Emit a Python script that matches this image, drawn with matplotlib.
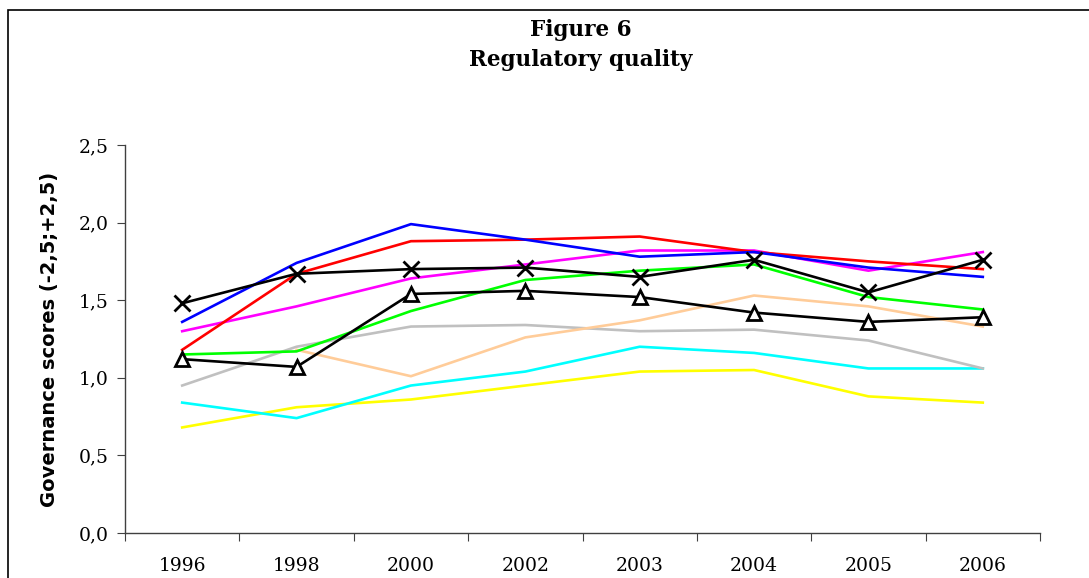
import numpy as np
import matplotlib.pyplot as plt
from matplotlib.patches import Rectangle

years = ["1996", "1998", "2000", "2002", "2003", "2004", "2005", "2006"]

blue = [1.36, 1.74, 1.99, 1.89, 1.78, 1.81, 1.71, 1.65]
red = [1.18, 1.67, 1.88, 1.89, 1.91, 1.81, 1.75, 1.70]
magenta = [1.30, 1.46, 1.64, 1.73, 1.82, 1.82, 1.69, 1.81]
green = [1.15, 1.17, 1.43, 1.63, 1.69, 1.73, 1.52, 1.44]
peach = [np.nan, 1.18, 1.01, 1.26, 1.37, 1.53, 1.46, 1.33]
gray = [0.95, 1.20, 1.33, 1.34, 1.30, 1.31, 1.24, 1.06]
cyan = [0.84, 0.74, 0.95, 1.04, 1.20, 1.16, 1.06, 1.06]
yellow = [0.68, 0.81, 0.86, 0.95, 1.04, 1.05, 0.88, 0.84]
black_x = [1.48, 1.67, 1.70, 1.71, 1.65, 1.76, 1.55, 1.76]
black_tri = [1.12, 1.07, 1.54, 1.56, 1.52, 1.42, 1.36, 1.39]

fig = plt.figure(figsize=(10.89, 5.78), dpi=100)
ax = fig.add_axes([0.1148, 0.0779, 0.8402, 0.6713])

x = np.arange(len(years))
lw = 1.9
ax.plot(x, yellow, color="#ffff00", lw=lw)
ax.plot(x, cyan, color="#00ffff", lw=lw)
ax.plot(x, gray, color="#c0c0c0", lw=lw)
ax.plot(x, peach, color="#ffcc99", lw=lw)
ax.plot(x, green, color="#00ff00", lw=lw)
ax.plot(x, magenta, color="#ff00ff", lw=lw)
ax.plot(x, red, color="#ff0000", lw=lw)
ax.plot(x, blue, color="#0000ff", lw=lw)
ax.plot(x, black_tri, color="black", lw=lw, marker="^", ms=10,
        mfc="white", mec="black", mew=2)
ax.plot(x, black_x, color="black", lw=lw, marker="x", ms=11, mew=2)

ax.set_xlim(-0.5, len(years) - 0.5)
ax.set_ylim(0, 2.5)
ax.set_yticks(np.arange(0, 2.51, 0.5))
ax.set_yticklabels([f"{v:.1f}".replace(".", ",") for v in np.arange(0, 2.51, 0.5)],
                   fontfamily="DejaVu Serif", fontsize=13.5)
ax.set_xticks(np.arange(-0.5, len(years)), labels=[])
ax.set_xticks(x, minor=True)
ax.set_xticklabels(years, minor=True, fontfamily="DejaVu Serif", fontsize=13.5)
ax.tick_params(axis="x", which="minor", length=0, pad=17)
ax.tick_params(axis="both", which="major", length=6, color="#404040", direction="out")
ax.tick_params(axis="y", pad=6)

for s in ["top", "right"]:
    ax.spines[s].set_visible(False)
for s in ["left", "bottom"]:
    ax.spines[s].set_color("#404040")
    ax.spines[s].set_linewidth(1.0)

ax.set_ylabel("Governance scores (-2,5;+2,5)", fontfamily="DejaVu Sans",
              fontweight="bold", fontsize=14, labelpad=14)

fig.text(0.533, 0.948, "Figure 6", ha="center", va="center",
         fontfamily="DejaVu Serif", fontweight="bold", fontsize=15.5)
fig.text(0.533, 0.896, "Regulatory quality", ha="center", va="center",
         fontfamily="DejaVu Serif", fontweight="bold", fontsize=15.5)

# outer frame around the chart
fig.patches.append(Rectangle((8 / 1089, -0.1), 1.2, 1.1 - 10 / 578,
                             transform=fig.transFigure, fill=False,
                             edgecolor="black", lw=1.2))

fig.savefig("out.png", dpi=100)
